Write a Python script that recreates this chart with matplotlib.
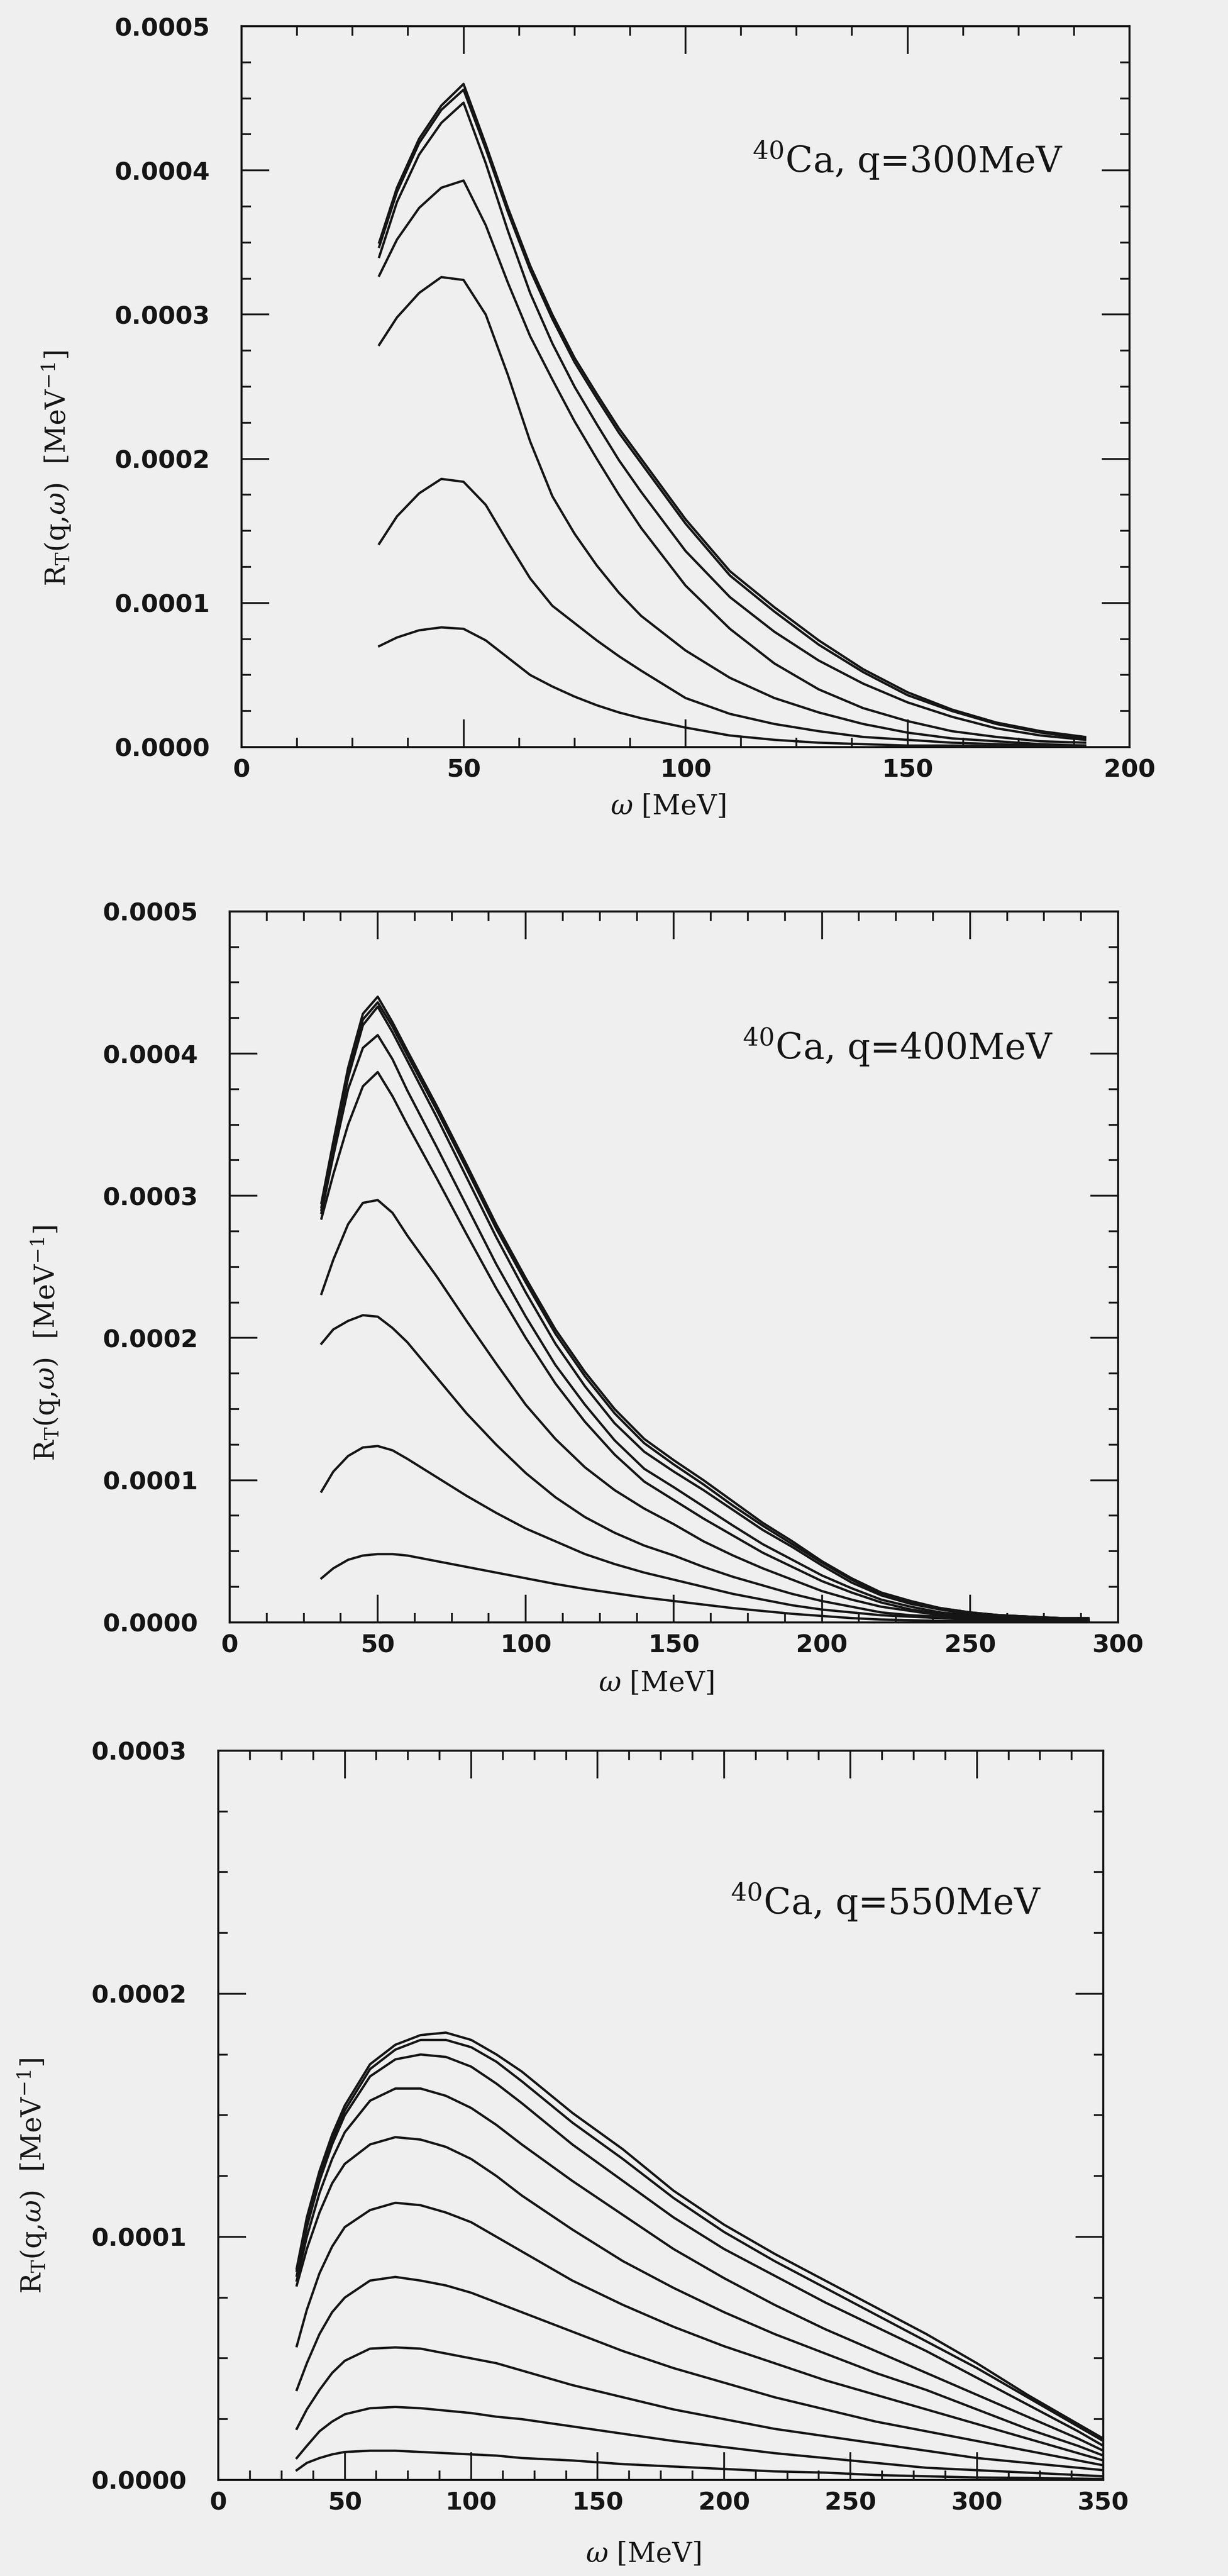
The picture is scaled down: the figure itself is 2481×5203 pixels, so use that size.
import numpy as np
import matplotlib
matplotlib.use("Agg")
import matplotlib.pyplot as plt
from matplotlib.ticker import MultipleLocator, FormatStrFormatter

# response R_T(q, w), values in units of 1e-4 MeV^-1

# q = 300 MeV
W300 = [31, 35, 40, 45, 50, 55, 60, 65, 70, 75, 80, 85, 90, 100, 110, 120, 130, 140, 150, 160, 170, 180, 190]
R300 = [
    [3.50, 3.88, 4.22, 4.45, 4.60, 4.18, 3.74, 3.34, 3.00, 2.70, 2.45, 2.21, 2.00, 1.58, 1.22, 0.97, 0.74, 0.54, 0.38, 0.26, 0.17, 0.11, 0.07],
    [3.47, 3.85, 4.19, 4.42, 4.56, 4.15, 3.71, 3.31, 2.97, 2.67, 2.42, 2.18, 1.97, 1.55, 1.19, 0.94, 0.71, 0.52, 0.36, 0.25, 0.16, 0.10, 0.06],
    [3.40, 3.78, 4.11, 4.33, 4.47, 4.05, 3.58, 3.15, 2.80, 2.50, 2.24, 1.99, 1.77, 1.36, 1.04, 0.80, 0.60, 0.44, 0.31, 0.21, 0.13, 0.08, 0.05],
    [3.27, 3.52, 3.74, 3.88, 3.93, 3.62, 3.22, 2.85, 2.55, 2.26, 2.00, 1.75, 1.52, 1.12, 0.82, 0.58, 0.40, 0.27, 0.18, 0.11, 0.07, 0.04, 0.03],
    [2.79, 2.98, 3.15, 3.26, 3.24, 3.00, 2.58, 2.12, 1.74, 1.48, 1.26, 1.07, 0.91, 0.67, 0.48, 0.34, 0.24, 0.16, 0.10, 0.06, 0.04, 0.02, 0.01],
    [1.41, 1.60, 1.76, 1.86, 1.84, 1.68, 1.42, 1.17, 0.98, 0.86, 0.74, 0.63, 0.53, 0.34, 0.23, 0.16, 0.11, 0.07, 0.05, 0.03, 0.02, 0.01, 0.01],
    [0.70, 0.76, 0.81, 0.83, 0.82, 0.74, 0.62, 0.50, 0.42, 0.35, 0.29, 0.24, 0.20, 0.135, 0.08, 0.05, 0.03, 0.02, 0.01, 0.01, 0.005, 0.003, 0.002],
]

# q = 400 MeV
W400 = [31, 35, 40, 45, 50, 55, 60, 70, 80, 90, 100, 110, 120, 130, 140, 150, 160, 170, 180, 190,
        200, 210, 220, 230, 240, 250, 260, 270, 280, 290]
R400 = [
    [2.95, 3.38, 3.90, 4.28, 4.40, 4.22, 4.02, 3.63, 3.22, 2.80, 2.42, 2.06, 1.76, 1.50, 1.29, 1.14, 1.00, 0.85, 0.70, 0.57,
     0.43, 0.31, 0.21, 0.15, 0.10, 0.07, 0.05, 0.04, 0.03, 0.03],
    [2.92, 3.35, 3.86, 4.24, 4.36, 4.19, 3.99, 3.60, 3.19, 2.77, 2.39, 2.03, 1.73, 1.47, 1.26, 1.11, 0.97, 0.82, 0.68, 0.55,
     0.42, 0.30, 0.20, 0.14, 0.10, 0.07, 0.05, 0.04, 0.03, 0.02],
    [2.90, 3.32, 3.83, 4.20, 4.33, 4.15, 3.95, 3.55, 3.13, 2.71, 2.32, 1.96, 1.66, 1.40, 1.20, 1.06, 0.93, 0.79, 0.65, 0.53,
     0.40, 0.28, 0.19, 0.13, 0.09, 0.06, 0.05, 0.04, 0.03, 0.02],
    [2.88, 3.28, 3.75, 4.04, 4.13, 3.96, 3.74, 3.34, 2.93, 2.52, 2.15, 1.81, 1.53, 1.28, 1.08, 0.95, 0.815, 0.68, 0.55, 0.44,
     0.33, 0.24, 0.16, 0.11, 0.07, 0.05, 0.04, 0.03, 0.02, 0.02],
    [2.84, 3.15, 3.50, 3.77, 3.87, 3.70, 3.50, 3.12, 2.73, 2.35, 2.00, 1.68, 1.41, 1.18, 0.99, 0.86, 0.73, 0.61, 0.49, 0.39,
     0.29, 0.21, 0.14, 0.09, 0.06, 0.04, 0.03, 0.02, 0.02, 0.01],
    [2.31, 2.55, 2.80, 2.95, 2.97, 2.88, 2.72, 2.43, 2.12, 1.82, 1.53, 1.29, 1.09, 0.93, 0.80, 0.69, 0.57, 0.47, 0.38, 0.30,
     0.22, 0.16, 0.11, 0.08, 0.05, 0.04, 0.03, 0.02, 0.02, 0.01],
    [1.96, 2.06, 2.12, 2.16, 2.15, 2.07, 1.97, 1.72, 1.47, 1.25, 1.05, 0.88, 0.74, 0.63, 0.54, 0.47, 0.39, 0.32, 0.26, 0.20,
     0.15, 0.11, 0.07, 0.05, 0.04, 0.03, 0.02, 0.02, 0.01, 0.01],
    [0.92, 1.06, 1.17, 1.23, 1.24, 1.21, 1.15, 1.02, 0.89, 0.77, 0.66, 0.57, 0.48, 0.41, 0.35, 0.30, 0.25, 0.20, 0.16, 0.12,
     0.09, 0.07, 0.05, 0.04, 0.03, 0.02, 0.01, 0.01, 0.01, 0.01],
    [0.31, 0.38, 0.44, 0.47, 0.48, 0.48, 0.47, 0.43, 0.39, 0.35, 0.31, 0.27, 0.235, 0.205, 0.175, 0.15, 0.125, 0.10, 0.08, 0.06,
     0.045, 0.03, 0.02, 0.015, 0.01, 0.01, 0.005, 0.005, 0.005, 0.005],
]

# q = 550 MeV
W550 = [31, 35, 40, 45, 50, 60, 70, 80, 90, 100, 110, 120, 140, 160, 180, 200, 220, 240, 260, 280, 300, 320, 340, 350]
R550 = [
    [0.87, 1.08, 1.27, 1.42, 1.54, 1.71, 1.79, 1.83, 1.84, 1.81, 1.75, 1.68, 1.51, 1.36, 1.19, 1.05, 0.93, 0.82, 0.71, 0.60, 0.48, 0.35, 0.23, 0.17],
    [0.86, 1.06, 1.25, 1.40, 1.52, 1.69, 1.77, 1.81, 1.81, 1.78, 1.72, 1.64, 1.47, 1.32, 1.16, 1.02, 0.90, 0.79, 0.68, 0.57, 0.46, 0.34, 0.22, 0.16],
    [0.84, 1.04, 1.23, 1.38, 1.50, 1.66, 1.73, 1.75, 1.74, 1.70, 1.63, 1.55, 1.38, 1.23, 1.08, 0.95, 0.84, 0.73, 0.63, 0.53, 0.42, 0.31, 0.20, 0.14],
    [0.82, 1.00, 1.18, 1.32, 1.43, 1.56, 1.61, 1.61, 1.58, 1.53, 1.46, 1.38, 1.23, 1.09, 0.95, 0.83, 0.72, 0.62, 0.53, 0.44, 0.35, 0.26, 0.17, 0.12],
    [0.80, 0.95, 1.10, 1.22, 1.30, 1.38, 1.41, 1.40, 1.37, 1.32, 1.25, 1.17, 1.03, 0.90, 0.79, 0.69, 0.60, 0.52, 0.44, 0.37, 0.29, 0.21, 0.14, 0.10],
    [0.55, 0.70, 0.85, 0.96, 1.04, 1.11, 1.14, 1.13, 1.10, 1.06, 1.00, 0.94, 0.82, 0.72, 0.63, 0.55, 0.48, 0.41, 0.35, 0.29, 0.23, 0.17, 0.11, 0.08],
    [0.37, 0.48, 0.60, 0.69, 0.75, 0.82, 0.835, 0.82, 0.80, 0.77, 0.73, 0.69, 0.61, 0.53, 0.46, 0.40, 0.34, 0.29, 0.24, 0.20, 0.16, 0.12, 0.08, 0.06],
    [0.21, 0.29, 0.37, 0.44, 0.49, 0.54, 0.545, 0.54, 0.52, 0.50, 0.48, 0.45, 0.39, 0.34, 0.29, 0.25, 0.21, 0.18, 0.15, 0.12, 0.09, 0.07, 0.05, 0.04],
    [0.09, 0.14, 0.20, 0.24, 0.27, 0.295, 0.30, 0.295, 0.285, 0.275, 0.26, 0.25, 0.22, 0.19, 0.16, 0.135, 0.11, 0.09, 0.07, 0.05, 0.04, 0.03, 0.02, 0.015],
    [0.04, 0.07, 0.09, 0.105, 0.115, 0.12, 0.12, 0.115, 0.11, 0.105, 0.10, 0.09, 0.08, 0.065, 0.055, 0.045, 0.035, 0.03, 0.02, 0.015, 0.01, 0.008, 0.005, 0.004],
]

TITLES = ["$^{40}$Ca, q=300MeV", "$^{40}$Ca, q=400MeV", "$^{40}$Ca, q=550MeV"]
XMAX = [200, 300, 350]
YMAX = [0.0005, 0.0005, 0.0003]

BG = "#efefef"
INK = "#151515"

plt.rcParams["font.family"] = ["DejaVu Sans"]
plt.rcParams["mathtext.fontset"] = "dejavuserif"

fig = plt.figure(figsize=(24.81, 52.03), dpi=100, facecolor=BG)

# axes rectangles in figure fractions, measured on the scan
rects = [
    [0.1967, 0.7100, 0.7231, 0.2798],
    [0.1870, 0.3702, 0.7235, 0.2760],
    [0.1778, 0.0373, 0.7207, 0.2831],
]
title_pos = [(0.575, 0.797), (0.577, 0.792), (0.579, 0.775)]
ylab_pos = [(-0.19, 0.387), (-0.189, 0.393), (-0.192, 0.417)]
xlab_y = [-0.083, -0.086, -0.102]
panels = [(W300, R300), (W400, R400), (W550, R550)]

for i, (w, curves) in enumerate(panels):
    ax = fig.add_axes(rects[i], facecolor=BG)
    for r in curves:
        ax.plot(w, np.array(r) * 1e-4, color=INK, lw=3.4, solid_joinstyle="round")

    ax.set_xlim(0, XMAX[i])
    ax.set_ylim(0, YMAX[i])
    ax.xaxis.set_major_locator(MultipleLocator(50))
    ax.xaxis.set_minor_locator(MultipleLocator(12.5))
    ax.yaxis.set_major_locator(MultipleLocator(0.0001))
    ax.yaxis.set_minor_locator(MultipleLocator(0.000025))
    ax.xaxis.set_major_formatter(FormatStrFormatter("%d"))
    ax.yaxis.set_major_formatter(FormatStrFormatter("%.4f"))

    ax.tick_params(which="both", direction="in", top=True, right=True,
                   color=INK, width=2.6, labelcolor=INK)
    ax.tick_params(which="major", length=40, labelsize=36)
    ax.tick_params(which="minor", length=14)
    ax.tick_params(axis="x", which="major", pad=16)
    ax.tick_params(axis="y", which="major", pad=46)
    for lab in ax.get_xticklabels() + ax.get_yticklabels():
        lab.set_fontweight("bold")
    for s in ax.spines.values():
        s.set_linewidth(3.0)
        s.set_color(INK)

    ax.set_xlabel(r"$\omega$ [MeV]", fontsize=40, family="DejaVu Serif", color=INK)
    ax.xaxis.label.set_va("center")
    ax.xaxis.set_label_coords(0.48, xlab_y[i])
    ax.set_ylabel(r"R$_\mathrm{T}$(q,$\omega$)  [MeV$^{-1}$]", fontsize=40,
                  family="DejaVu Serif", color=INK)
    ax.yaxis.set_label_coords(*ylab_pos[i])

    ax.text(title_pos[i][0], title_pos[i][1], TITLES[i], transform=ax.transAxes,
            fontsize=52, family="DejaVu Serif", color=INK, ha="left", va="baseline")

fig.savefig("out.png", dpi=100, facecolor=BG)
